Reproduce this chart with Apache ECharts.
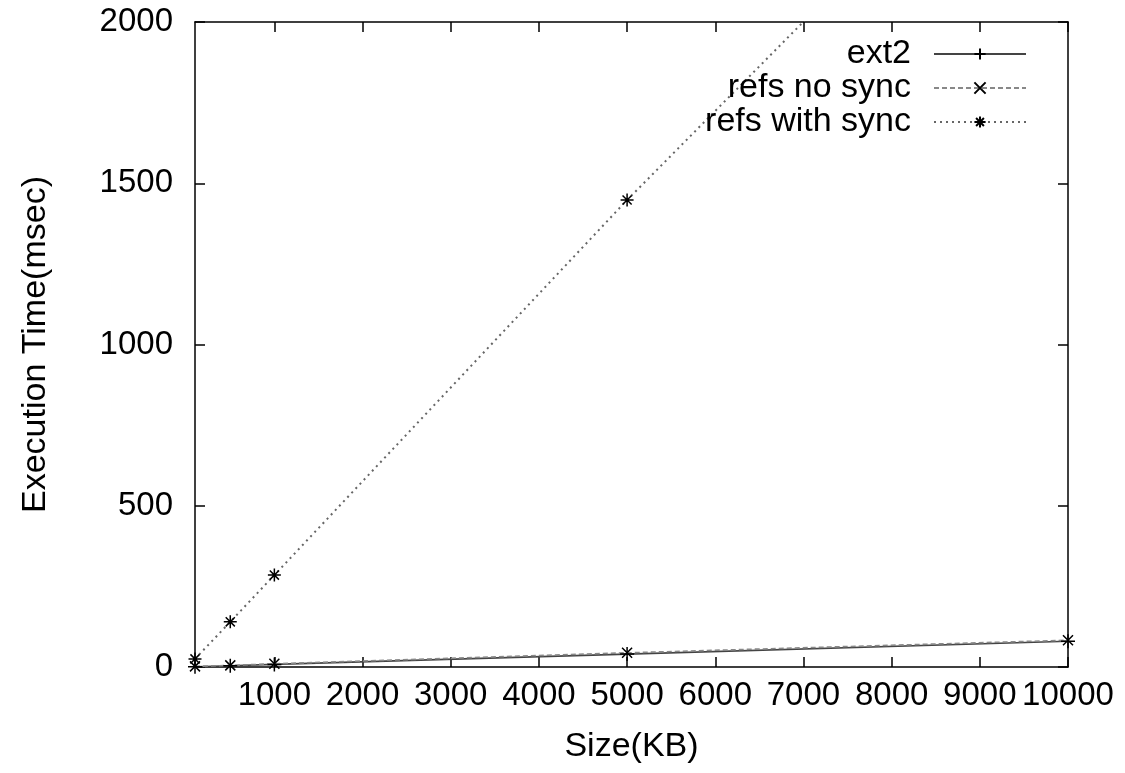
<!DOCTYPE html>
<html>
<head>
<meta charset="utf-8">
<script src="https://cdn.jsdelivr.net/npm/echarts@6/dist/echarts.min.js"></script>
<style>
html,body{margin:0;padding:0;background:#fff;}
#chart{width:1125px;height:773px;}
</style>
</head>
<body>
<div id="chart"></div>
<script>
// Data
const sizes = [100, 500, 1000, 5000, 10000];
const ext2 = [1, 4, 8, 40, 80];
const refsNoSync = [2, 5, 10, 44, 83];
const refsWithSync = [25, 140, 285, 1448, 2830];
const seriesNames = ['ext2', 'refs no sync', 'refs with sync'];
const xTickValues = [1000, 2000, 3000, 4000, 5000, 6000, 7000, 8000, 9000, 10000];
const yTickValues = [0, 500, 1000, 1500, 2000];

const FONT = 'Liberation Sans, Arial, sans-serif';
const FS = 33;
const FS_TEXT = 34;

const PLUS = 'path://M5,0L5,10M0,5L10,5';
const CROSS = 'path://M0,0L10,10M10,0L0,10';
const STAR = 'path://M5,0L5,10M0,5L10,5M1.5,1.5L8.5,8.5M8.5,1.5L1.5,8.5';

function pairs(ys) { return sizes.map((s, i) => [s, ys[i]]); }
function plain(v) { return String(v); }

const chart = echarts.init(document.getElementById('chart'), null, {renderer: 'canvas'});

const baseX = {
  type: 'value', min: 100, max: 10000,
  splitLine: {show: false},
  axisLine: {show: true, onZero: false, lineStyle: {color: '#000', width: 1.5}},
  axisTick: {show: true, inside: true, length: 10, customValues: xTickValues, lineStyle: {color: '#000', width: 1.5}},
};
const baseY = {
  type: 'value', min: 0, max: 2000, interval: 500,
  splitLine: {show: false},
  axisLine: {show: true, onZero: false, lineStyle: {color: '#000', width: 1.5}},
  axisTick: {show: true, inside: true, length: 10, customValues: yTickValues, lineStyle: {color: '#000', width: 1.5}},
};

chart.setOption({
  animation: false,
  backgroundColor: '#fff',
  textStyle: {fontFamily: FONT},
  grid: {left: 195, right: 57, top: 22, bottom: 106, containLabel: false},
  legend: {
    orient: 'vertical',
    align: 'right',
    right: 93,
    top: 32,
    itemGap: 0,
    itemWidth: 92,
    itemHeight: 14,
    data: seriesNames,
    textStyle: {fontFamily: FONT, fontSize: FS_TEXT, color: '#000', lineHeight: 33, padding: [0, 18, 0, 0]}
  },
  xAxis: [
    Object.assign({}, baseX, {
      position: 'bottom',
      name: 'Size(KB)', nameLocation: 'middle', nameGap: 63,
      nameTextStyle: {fontFamily: FONT, fontSize: FS_TEXT, color: '#000'},
      axisLabel: {show: true, customValues: xTickValues, formatter: plain, showMaxLabel: true, hideOverlap: false,
                  margin: 12, color: '#000', fontFamily: FONT, fontSize: FS}
    }),
    Object.assign({}, baseX, {position: 'top', axisLabel: {show: false}})
  ],
  yAxis: [
    Object.assign({}, baseY, {
      position: 'left',
      name: 'Execution Time(msec)', nameLocation: 'middle', nameGap: 142,
      nameTextStyle: {fontFamily: FONT, fontSize: FS_TEXT, color: '#000'},
      axisLabel: {show: true, customValues: yTickValues, formatter: plain, margin: 22, color: '#000', fontFamily: FONT, fontSize: FS}
    }),
    Object.assign({}, baseY, {position: 'right', axisLabel: {show: false}})
  ],
  series: [
    {
      name: seriesNames[0], type: 'line', data: pairs(ext2), clip: true,
      symbol: PLUS, symbolSize: 14, showSymbol: true,
      lineStyle: {color: '#444', width: 1.6, type: 'solid'},
      itemStyle: {color: '#000', borderColor: '#000', borderWidth: 1.5}
    },
    {
      name: seriesNames[1], type: 'line', data: pairs(refsNoSync), clip: true,
      symbol: CROSS, symbolSize: 10, showSymbol: true,
      lineStyle: {color: '#888', width: 1.6, type: [5, 3]},
      itemStyle: {color: '#000', borderColor: '#000', borderWidth: 1.5}
    },
    {
      name: seriesNames[2], type: 'line', data: pairs(refsWithSync), clip: true,
      symbol: STAR, symbolSize: 13, showSymbol: true,
      lineStyle: {color: '#666', width: 2, type: [2, 4]},
      itemStyle: {color: '#000', borderColor: '#000', borderWidth: 1.5}
    }
  ]
});
</script>
</body>
</html>
